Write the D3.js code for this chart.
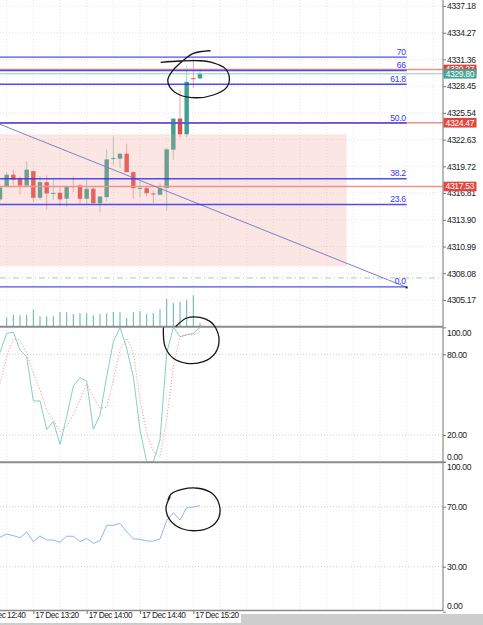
<!DOCTYPE html>
<html>
<head>
<meta charset="utf-8">
<script src="https://cdnjs.cloudflare.com/ajax/libs/d3/7.8.5/d3.min.js"></script>
<style>
body { margin: 0; background: #fff; }
svg { display: block; font-family: "Liberation Sans", Arial, sans-serif; }
.axis text { font-size: 8.6px; letter-spacing: -0.35px; fill: #222; }
.axis line { stroke: #777; }
.time text { font-size: 8.3px; letter-spacing: -0.5px; }
.fib text { font-size: 8.6px; letter-spacing: -0.35px; fill: #3535f0; }
</style>
</head>
<body>
<div id="chart"></div>
<script>
'use strict';

// M5 bars, 17 Dec
var barTimes = ["12:55","13:00","13:05","13:10","13:15","13:20","13:25","13:30","13:35","13:40",
    "13:45","13:50","13:55","14:00","14:05","14:10","14:15","14:20","14:25","14:30",
    "14:35","14:40","14:45","14:50","14:55","15:00","15:05","15:10","15:15","15:20","15:25"];
var opens  = [4316.12,4317.53,4318.81,4318.41,4317.64,4319.20,4316.30,4318.00,4316.72,4316.85,
    4316.19,4317.57,4317.64,4316.19,4317.28,4315.71,4316.37,4320.56,4320.56,4321.10,
    4319.09,4317.32,4317.35,4316.77,4316.63,4317.35,4321.54,4324.92,4323.21,4329.32,4329.29];
var highs  = [4317.64,4319.09,4319.39,4318.63,4320.29,4319.28,4318.66,4318.73,4318.27,4317.57,
    4317.64,4318.63,4317.83,4318.19,4317.46,4316.50,4321.57,4322.99,4321.13,4322.19,
    4319.17,4318.11,4317.59,4317.10,4317.89,4321.68,4324.95,4328.01,4330.63,4331.47,4330.19];
var lows   = [4315.90,4317.42,4317.72,4316.66,4317.53,4315.82,4316.08,4315.02,4316.08,4315.38,
    4315.28,4316.91,4315.65,4315.65,4315.65,4314.73,4315.90,4319.90,4319.53,4319.06,
    4316.19,4316.37,4316.44,4315.71,4316.55,4314.92,4320.45,4322.85,4322.91,4328.26,4329.29];
var closes = [4317.42,4318.81,4318.27,4317.64,4319.36,4316.30,4318.00,4316.77,4316.83,4316.12,
    4317.57,4317.50,4316.19,4317.28,4315.71,4316.44,4320.48,4320.62,4321.10,4319.09,
    4317.35,4317.37,4316.80,4316.71,4317.35,4321.57,4324.92,4323.21,4328.92,4329.24,4329.80];
var volumes = [null,360,465,440,465,665,400,400,400,570,560,490,520,520,440,490,520,570,560,330,
    560,610,490,530,680,1090,930,970,1065,1240,130];

// Stochastic (main, signal) and RSI
var stochMain = [81.5,95.6,96.4,83.2,78.2,45.3,45.3,24.2,29.9,13.1,33.6,56.4,62.6,60.1,24.2,34.9,
    63.3,89.4,100,84.5,63.3,23.7,0.1,0,16.3,80.7,100,93.1,94.3,95.6,100];
var stochSignal = [58.4,78.2,91.4,90.6,80.7,65.9,53.5,38.6,31.2,22.5,26.2,34.9,46.0,58.4,48.5,39.9,
    40.6,60.9,83.2,91.9,81.9,46.0,21.3,7.6,3.9,31.2,70.8,93.1,95.1,94.3,96.8];
var rsiValues = [49.6,51.8,50.7,49.3,53.1,46.7,50.5,47.8,47.8,46.3,50.3,50.3,46.7,48.9,45.6,47.3,
    57.6,57.6,58.9,53.3,48.5,48.3,47.1,47.1,48.5,60.7,66.0,61.1,69.3,69.8,70.7];

// axis ticks
var priceTicks = [4305.17,4308.08,4310.99,4313.90,4316.81,4319.72,4322.63,4325.54,4328.45,4331.36,4334.27,4337.18];
var stochTicks = [0, 20, 80, 100];
var rsiTicks = [0, 30, 70, 100];
var timeTickLabels = ["17 Dec 12:40","17 Dec 13:20","17 Dec 14:00","17 Dec 14:40","17 Dec 15:20"];

// fibonacci levels
var fibNames  = ["0.0","23.6","38.2","50.0","61.8","66","70"];
var fibPrices = [4306.59,4315.57,4318.37,4324.44,4328.66,4330.16,4331.61];
var fibTimes  = ["12:00","18:00"];

// trend line, rectangle
var trendTimes = ["12:55","18:00"];
var trendPrices = [4324.30, 4306.55];
var rectTimes = ["12:00","17:15"];
var rectPrices = [4308.84, 4323.21];

// horizontal price lines with axis labels
var redLinePrices = [4330.27, 4324.47, 4317.53];
var lastPrice = 4329.80;
var dashLinePrice = 4307.57;

// hand drawn marks: [minutes after 12:55, value]
var markMain = [[157.5,4332.31],[145.0,4332.03],[136.3,4331.11],[128.8,4330.02],[125.8,4329.12],
    [127.5,4328.33],[135.0,4327.49],[147.5,4327.19],[160.0,4327.49],[170.0,4328.33],[172.0,4329.41],
    [168.8,4330.39],[160.0,4331.00],[150.0,4331.22],[135.0,4331.19],[120.8,4331.05]];
var markStoch = [[132,100.8],[140,107.0],[150,107.5],[157.5,104.5],[161.3,100.5],[164.3,90.6],
    [161.3,80.7],[152.5,74.5],[140,73.3],[130,77.0],[123.8,85.7],[122.5,96.8],[122.6,99.6]];
var markRsi = [[127.5,76.5],[124.5,69.1],[127.5,61.1],[136.5,55.3],[147,54.0],[157.5,56.3],
    [164,62.5],[164.5,71.1],[159,78.9],[148.5,82.3],[136.5,81.6],[128.3,78.5],[126,74.5]];

var width = 483, height = 625, axisX = 443;
var parseT = d3.timeParse("%d %b %Y %H:%M");
function t(s) { return parseT("17 Dec 2025 " + s); }
var parseLabel = d3.timeParse("%d %b %H:%M");

var bars = barTimes.map(function(s, i) {
    return { date: t(s), o: opens[i], h: highs[i], l: lows[i], c: closes[i],
             v: volumes[i], k: stochMain[i], d: stochSignal[i], rsi: rsiValues[i] };
});

// scales
var x = d3.scaleTime().domain([t("12:55"), t("15:25")]).range([0, 200]);
var y = d3.scaleLinear().domain([4305.17, 4337.18]).range([300, 6]);
var yVol = d3.scaleLinear().domain([0, 1240]).range([326.3, 295.3]);
var yStoch = d3.scaleLinear().domain([0, 100]).range([461.9, 327.4]);
var yRsi = d3.scaleLinear().domain([0, 100]).range([611.7, 461.7]);
var t0 = t("12:55");
function xm(m) { return x(new Date(t0.getTime() + m * 60000)); }

var svg = d3.select("#chart").append("svg")
    .attr("width", width)
    .attr("height", height);

var defs = svg.append("defs");
defs.append("clipPath").attr("id", "clipMain").append("rect")
    .attr("x", 0).attr("y", 0).attr("width", axisX).attr("height", 326);
defs.append("clipPath").attr("id", "clipStoch").append("rect")
    .attr("x", 0).attr("y", 327).attr("width", axisX).attr("height", 135);
defs.append("clipPath").attr("id", "clipRsi").append("rect")
    .attr("x", 0).attr("y", 463).attr("width", axisX).attr("height", 147);

// vertical grid every 20 minutes
var gridTimes = d3.timeMinute.every(20).range(x.invert(-30), x.invert(axisX));
svg.append("g").selectAll("line")
    .data(gridTimes)
    .enter().append("line")
    .attr("x1", function(d) { return x(d); })
    .attr("x2", function(d) { return x(d); })
    .attr("y1", 0).attr("y2", 610)
    .attr("stroke", "#e4e4e4")
    .attr("stroke-dasharray", "1,2");

// horizontal grid
svg.append("g").selectAll("line")
    .data(priceTicks)
    .enter().append("line")
    .attr("x1", 0).attr("x2", axisX)
    .attr("y1", function(d) { return y(d); })
    .attr("y2", function(d) { return y(d); })
    .attr("stroke", "#e4e4e4")
    .attr("stroke-dasharray", "1,2");
svg.append("g").selectAll("line")
    .data([20, 80])
    .enter().append("line")
    .attr("x1", 0).attr("x2", axisX)
    .attr("y1", function(d) { return yStoch(d); })
    .attr("y2", function(d) { return yStoch(d); })
    .attr("stroke", "#cfcfcf")
    .attr("stroke-dasharray", "1,2");
svg.append("g").selectAll("line")
    .data([30, 70])
    .enter().append("line")
    .attr("x1", 0).attr("x2", axisX)
    .attr("y1", function(d) { return yRsi(d); })
    .attr("y2", function(d) { return yRsi(d); })
    .attr("stroke", "#cfcfcf")
    .attr("stroke-dasharray", "1,2");

// MAIN PANEL
var main = svg.append("g").attr("clip-path", "url(#clipMain)");

// volumes
main.append("g").selectAll("line")
    .data(bars.filter(function(d) { return d.v != null; }))
    .enter().append("line")
    .attr("x1", function(d) { return x(d.date); })
    .attr("x2", function(d) { return x(d.date); })
    .attr("y1", yVol(0))
    .attr("y2", function(d) { return yVol(d.v); })
    .attr("stroke", "#6cb9ab")
    .attr("stroke-width", 1.1);

// candles
var candle = main.append("g").selectAll("g")
    .data(bars)
    .enter().append("g");
candle.append("line")
    .attr("x1", function(d) { return x(d.date); })
    .attr("x2", function(d) { return x(d.date); })
    .attr("y1", function(d) { return y(d.h); })
    .attr("y2", function(d) { return y(d.l); })
    .attr("stroke", function(d) { return d.c >= d.o ? "#9fd2c2" : "#f2a7a5"; })
    .attr("stroke-width", 1);
candle.append("rect")
    .attr("x", function(d) { return x(d.date) - 2.2; })
    .attr("width", 4.4)
    .attr("y", function(d) { return y(Math.max(d.o, d.c)); })
    .attr("height", function(d) { return Math.max(1, Math.abs(y(d.o) - y(d.c))); })
    .attr("fill", function(d) { return d.c >= d.o ? "#3fa08d" : "#e2504c"; });

// rectangle (semi transparent, over the candles)
main.append("rect")
    .attr("x", x(t(rectTimes[0])))
    .attr("width", x(t(rectTimes[1])) - x(t(rectTimes[0])))
    .attr("y", y(rectPrices[1]))
    .attr("height", y(rectPrices[0]) - y(rectPrices[1]))
    .attr("fill", "#f29a90")
    .attr("fill-opacity", 0.25);

// horizontal price lines
main.append("line")
    .attr("x1", 0).attr("x2", axisX)
    .attr("y1", y(dashLinePrice)).attr("y2", y(dashLinePrice))
    .attr("stroke", "#9ccfc6")
    .attr("stroke-dasharray", "6,3,1,3");
main.append("g").selectAll("line")
    .data(redLinePrices)
    .enter().append("line")
    .attr("x1", 0).attr("x2", axisX)
    .attr("y1", function(d) { return y(d); })
    .attr("y2", function(d) { return y(d); })
    .attr("stroke", "#f0908a")
    .attr("stroke-width", 1.4);
main.append("line")
    .attr("x1", 0).attr("x2", axisX)
    .attr("y1", y(lastPrice)).attr("y2", y(lastPrice))
    .attr("stroke", "#8fcfc3")
    .attr("stroke-width", 1);

// trend line
main.append("line")
    .attr("x1", x(t(trendTimes[0]))).attr("x2", x(t(trendTimes[1])))
    .attr("y1", y(trendPrices[0])).attr("y2", y(trendPrices[1]))
    .attr("stroke", "#7d7fcc")
    .attr("stroke-width", 1);

// fibonacci lines
var fib = main.append("g").attr("class", "fib").selectAll("g")
    .data(fibNames.map(function(n, i) { return { name: n, price: fibPrices[i] }; }))
    .enter().append("g");
fib.append("line")
    .attr("x1", x(t(fibTimes[0]))).attr("x2", x(t(fibTimes[1])))
    .attr("y1", function(d) { return y(d.price); })
    .attr("y2", function(d) { return y(d.price); })
    .attr("stroke", "#2f2ff0")
    .attr("stroke-opacity", 0.85)
    .attr("stroke-width", 1.3);
fib.append("text")
    .attr("x", x(t(fibTimes[1])) - 1)
    .attr("y", function(d) { return y(d.price) - 2.5; })
    .attr("text-anchor", "end")
    .text(function(d) { return d.name; });
main.append("rect")
    .attr("x", x(t(fibTimes[1])) - 1).attr("y", y(fibPrices[0]) - 0.5)
    .attr("width", 2).attr("height", 2).attr("fill", "#222");

// STOCHASTIC PANEL
var stoch = svg.append("g").attr("clip-path", "url(#clipStoch)");
stoch.append("path")
    .datum(bars)
    .attr("fill", "none")
    .attr("stroke", "#86cfc3")
    .attr("stroke-width", 1)
    .attr("d", d3.line()
        .x(function(d) { return x(d.date); })
        .y(function(d) { return yStoch(d.k); }));
stoch.append("path")
    .datum(bars)
    .attr("fill", "none")
    .attr("stroke", "#f08a85")
    .attr("stroke-width", 1)
    .attr("stroke-dasharray", "1,2")
    .attr("d", d3.line()
        .x(function(d) { return x(d.date); })
        .y(function(d) { return yStoch(d.d); }));

// RSI PANEL
var rsi = svg.append("g").attr("clip-path", "url(#clipRsi)");
rsi.append("path")
    .datum(bars)
    .attr("fill", "none")
    .attr("stroke", "#8fb6f2")
    .attr("stroke-width", 1)
    .attr("d", d3.line()
        .x(function(d) { return x(d.date); })
        .y(function(d) { return yRsi(d.rsi); }));

// panel borders
svg.append("g").selectAll("line")
    .data([326.8, 462.2])
    .enter().append("line")
    .attr("x1", 0).attr("x2", axisX)
    .attr("y1", function(d) { return d; }).attr("y2", function(d) { return d; })
    .attr("stroke", "#8c8c8c")
    .attr("stroke-width", 2);
svg.append("line")
    .attr("x1", 0).attr("x2", axisX)
    .attr("y1", 610.5).attr("y2", 610.5)
    .attr("stroke", "#8c8c8c")
    .attr("stroke-width", 1.5);
svg.append("line")
    .attr("x1", axisX).attr("x2", axisX)
    .attr("y1", 0).attr("y2", 611)
    .attr("stroke", "#8c8c8c")
    .attr("stroke-width", 1.2);

// right axes
var priceAxis = svg.append("g")
    .attr("class", "axis")
    .attr("transform", "translate(" + axisX + ",0)")
    .call(d3.axisRight(y).tickValues(priceTicks).tickSize(3).tickPadding(1).tickFormat(d3.format(".2f")));
priceAxis.select(".domain").remove();

var stochAxis = svg.append("g")
    .attr("class", "axis")
    .attr("transform", "translate(" + axisX + ",0)")
    .call(d3.axisRight(yStoch).tickValues(stochTicks).tickSize(3).tickPadding(1).tickFormat(d3.format(".2f")));
stochAxis.select(".domain").remove();
stochAxis.selectAll("text").attr("dy", function(d) { return d == 100 ? "0.9em" : d == 0 ? "-0.25em" : "0.32em"; });

var rsiAxis = svg.append("g")
    .attr("class", "axis")
    .attr("transform", "translate(" + axisX + ",0)")
    .call(d3.axisRight(yRsi).tickValues(rsiTicks).tickSize(3).tickPadding(1).tickFormat(d3.format(".2f")));
rsiAxis.select(".domain").remove();
rsiAxis.selectAll("text").attr("dy", function(d) { return d == 100 ? "0.9em" : d == 0 ? "-0.35em" : "0.32em"; });

// price labels on the axis
var tags = [
    { price: redLinePrices[0], fill: "#e2443e" },
    { price: lastPrice, fill: "#45a394" },
    { price: redLinePrices[1], fill: "#e2443e" },
    { price: redLinePrices[2], fill: "#e2443e" }
];
var tag = svg.append("g").attr("class", "axis").selectAll("g")
    .data(tags)
    .enter().append("g")
    .attr("transform", function(d) { return "translate(" + (axisX + 0.5) + "," + y(d.price) + ")"; });
tag.append("rect")
    .attr("x", 0).attr("y", -4.8)
    .attr("width", 33).attr("height", 9.6)
    .attr("fill", function(d) { return d.fill; });
tag.append("text")
    .attr("x", 2).attr("dy", "0.34em")
    .style("fill", "#fff")
    .text(function(d) { return d3.format(".2f")(d.price); });

// time axis
var timeTicks = timeTickLabels.map(function(s) {
    var p = parseLabel(s);
    return t(d3.timeFormat("%H:%M")(p));
});
var timeAxis = svg.append("g")
    .attr("class", "axis time")
    .attr("transform", "translate(0,611)")
    .call(d3.axisBottom(x).tickValues(timeTicks).tickSize(3).tickPadding(1)
        .tickFormat(function(d, i) { return timeTickLabels[i]; }));
timeAxis.select(".domain").remove();
timeAxis.selectAll("text")
    .attr("text-anchor", "start")
    .attr("x", 1.5)
    .attr("y", 1)
    .attr("dy", "0.75em");

// window strip at the bottom edge
svg.append("rect")
    .attr("x", 241).attr("y", 614)
    .attr("width", width - 241).attr("height", height - 614)
    .attr("fill", "#cdcdcd");
svg.append("rect")
    .attr("x", 0).attr("y", 623)
    .attr("width", 241).attr("height", height - 623)
    .attr("fill", "#cdcdcd");

// hand drawn marks
var pen = d3.line().curve(d3.curveCatmullRom.alpha(0.5));
function drawMark(points, scaleY) {
    svg.append("path")
        .attr("fill", "none")
        .attr("stroke", "#151515")
        .attr("stroke-width", 1.3)
        .attr("stroke-linecap", "round")
        .attr("d", pen(points.map(function(p) { return [xm(p[0]), scaleY(p[1])]; })));
}
drawMark(markMain, y);
drawMark(markStoch, yStoch);
drawMark(markRsi, yRsi);
</script>
</body>
</html>
